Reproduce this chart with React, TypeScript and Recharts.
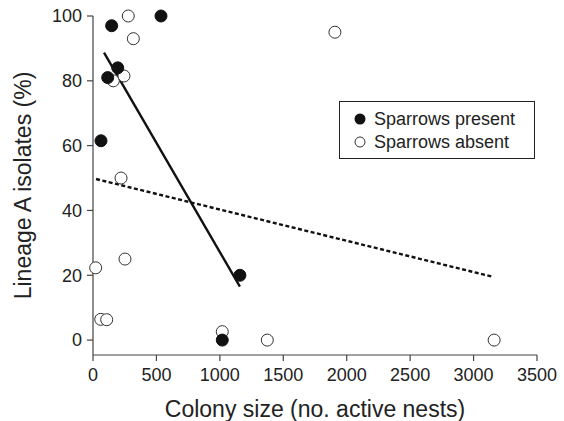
import { ScatterChart, Scatter, XAxis, YAxis, ReferenceLine } from 'recharts';

// colony size (no. active nests) vs lineage A isolates (%)
const presentX = [147, 536, 195, 116, 63, 1158, 1019];
const presentY = [97, 100, 84, 81, 61.5, 20, 0];

const absentX = [278, 318, 160, 244, 221, 252, 21, 61, 108, 1019, 1374, 3162, 1907];
const absentY = [100, 93, 80, 81.5, 50, 25, 22.3, 6.4, 6.3, 2.6, 0, 0, 95];

// fitted lines, endpoints [x, y]
const presentFit = [[87, 88.7], [1158, 16.5]];
const absentFit = [[24, 49.7], [3155, 19.5]];

const xTicks = [0, 500, 1000, 1500, 2000, 2500, 3000, 3500];
const yTicks = [0, 20, 40, 60, 80, 100];

const present = presentX.map((x, i) => ({ x, y: presentY[i] }));
const absent = absentX.map((x, i) => ({ x, y: absentY[i] }));

const FONT = '"Liberation Sans", Arial, Helvetica, sans-serif';

const openDot = (p: any) => (
  <circle cx={p.cx} cy={p.cy} r={6} fill="#fff" stroke="#333" strokeWidth={1} />
);
const filledDot = (p: any) => (
  <circle cx={p.cx} cy={p.cy} r={6} fill="#111" stroke="#111" strokeWidth={1} />
);

function LegendBox() {
  const row = { display: 'flex', alignItems: 'center', height: 22, marginLeft: 14 };
  return (
    <div
      style={{
        position: 'absolute',
        left: 339,
        top: 101,
        width: 194,
        height: 56,
        border: '1px solid #222',
        background: '#fff',
        fontFamily: FONT,
        fontSize: 18,
        color: '#222',
      }}
    >
      <div style={{ ...row, marginTop: 6 }}>
        <svg width={12} height={12} style={{ marginRight: 8 }}>
          <circle cx={6} cy={6} r={5.5} fill="#111" />
        </svg>
        Sparrows present
      </div>
      <div style={{ ...row, marginTop: 1 }}>
        <svg width={12} height={12} style={{ marginRight: 8 }}>
          <circle cx={6} cy={6} r={5} fill="#fff" stroke="#333" strokeWidth={1} />
        </svg>
        Sparrows absent
      </div>
    </div>
  );
}

export default function App() {
  return (
    <div style={{ position: 'absolute', left: 0, top: 0, width: 564, height: 421, background: '#fff' }}>
      <ScatterChart width={564} height={421} margin={{ top: 16, right: 27, left: 33, bottom: 0 }}>
        <XAxis
          type="number"
          dataKey="x"
          domain={[0, 3500]}
          ticks={xTicks}
          interval={0}
          height={66}
          axisLine={{ stroke: '#444', strokeWidth: 1.2 }}
          tickLine={{ stroke: '#444', strokeWidth: 1.2 }}
          tickSize={6}
          tickMargin={7}
          tick={{ fill: '#222', fontSize: 18, fontFamily: FONT }}
          label={{ value: 'Colony size (no. active nests)', position: 'insideBottom', offset: 4, fill: '#222', fontSize: 23, fontFamily: FONT }}
        />
        <YAxis
          type="number"
          dataKey="y"
          domain={[-4.6, 100]}
          ticks={yTicks}
          interval={0}
          width={60}
          axisLine={{ stroke: '#444', strokeWidth: 1.2 }}
          tickLine={{ stroke: '#444', strokeWidth: 1.2 }}
          tickSize={6}
          tickMargin={5}
          tick={{ fill: '#222', fontSize: 18, fontFamily: FONT }}
          label={{ value: 'Lineage A isolates (%)', angle: -90, position: 'insideLeft', offset: -10, fill: '#222', fontSize: 23, fontFamily: FONT, style: { textAnchor: 'middle' } }}
        />
        <ReferenceLine
          segment={[{ x: absentFit[0][0], y: absentFit[0][1] }, { x: absentFit[1][0], y: absentFit[1][1] }]}
          stroke="#111"
          strokeWidth={2.4}
          strokeDasharray="4 2.5"
          ifOverflow="visible"
        />
        <ReferenceLine
          segment={[{ x: presentFit[0][0], y: presentFit[0][1] }, { x: presentFit[1][0], y: presentFit[1][1] }]}
          stroke="#111"
          strokeWidth={2.4}
          ifOverflow="visible"
        />
        <Scatter data={absent} shape={openDot} isAnimationActive={false} />
        <Scatter data={present} shape={filledDot} isAnimationActive={false} />
      </ScatterChart>
      <LegendBox />
    </div>
  );
}
